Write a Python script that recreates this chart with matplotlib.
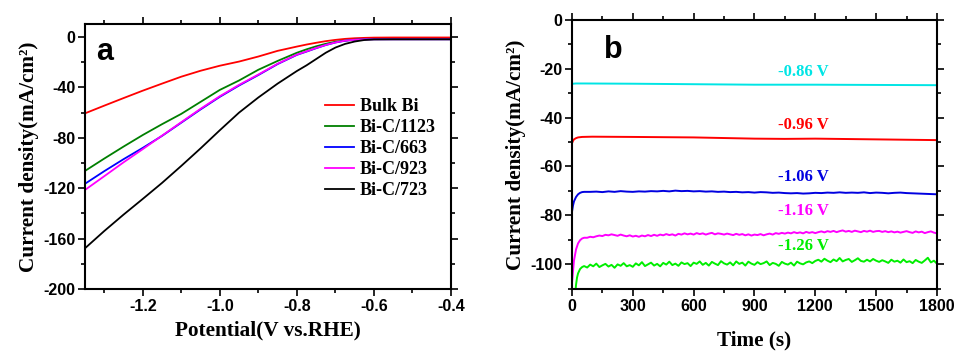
import matplotlib
matplotlib.use("Agg")
import matplotlib.pyplot as plt
from matplotlib.ticker import MultipleLocator

# ---------------- Panel a: LSV curves ----------------
potential = [-1.35, -1.30, -1.25, -1.20, -1.15, -1.10, -1.05, -1.00, -0.95, -0.90,
             -0.85, -0.80, -0.775, -0.75, -0.725, -0.70, -0.675, -0.65, -0.625, -0.60,
             -0.55, -0.50, -0.45, -0.40]

bulk_bi = [-60.6, -54.5, -48.5, -42.6, -37.0, -31.5, -26.8, -22.8, -19.5, -15.5,
           -11.0, -7.6, -6.0, -4.6, -3.3, -2.3, -1.5, -1.0, -0.7, -0.5,
           -0.4, -0.4, -0.4, -0.4]
bic_1123 = [-106.3, -96.5, -87.0, -77.8, -69.2, -61.0, -51.5, -42.0, -34.5, -26.0,
            -19.0, -12.5, -9.8, -7.4, -5.4, -3.8, -2.8, -2.1, -1.9, -1.8,
            -1.8, -1.8, -1.8, -1.8]
bic_663 = [-116.5, -106.5, -97.0, -88.0, -78.5, -68.0, -57.5, -47.5, -38.5, -30.2,
           -21.5, -14.2, -11.6, -8.9, -6.4, -4.4, -3.0, -2.2, -1.9, -1.8,
           -1.8, -1.8, -1.8, -1.8]
bic_923 = [-121.4, -110.5, -99.5, -89.0, -78.3, -67.6, -57.0, -47.0, -38.0, -29.8,
           -21.2, -14.0, -11.4, -8.7, -6.3, -4.3, -2.9, -2.2, -1.9, -1.8,
           -1.8, -1.8, -1.8, -1.8]
bic_723 = [-167.7, -154.0, -141.0, -128.5, -115.8, -102.3, -88.4, -74.0, -60.0, -48.0,
           -37.0, -27.0, -22.5, -17.5, -12.5, -8.4, -5.5, -3.6, -2.4, -1.9,
           -1.8, -1.8, -1.8, -1.8]

lsv_labels = ["Bulk Bi", "Bi-C/1123", "Bi-C/663", "Bi-C/923", "Bi-C/723"]
lsv_colors = ["#ff0000", "#007f00", "#0000ff", "#ff00ff", "#000000"]

# ---------------- Panel b: chronoamperometry ----------------
t_cyan = [0, 5, 20, 60, 300, 600, 900, 1200, 1500, 1800]
j_cyan = [-26.3, -26.1, -26.0, -26.0, -26.1, -26.3, -26.5, -26.5, -26.6, -26.7]

t_red = [0, 5, 10, 20, 30, 50, 100, 300, 600, 900, 1050, 1200, 1500, 1800]
j_red = [-50.5, -49.5, -48.9, -48.4, -48.1, -47.9, -47.8, -47.9, -48.1, -48.6,
         -48.7, -48.6, -48.9, -49.2]

t_blue = [0, 5, 10, 20, 30, 40, 50, 60] + list(range(90, 1801, 30))
j_blue = [-78.6, -76.0, -74.3, -72.5, -71.4, -70.8, -70.5, -70.4,
          -70.4, -70.3, -70.5, -70.2, -70.4, -70.1, -70.3, -70.4, -70.2, -70.3, -70.1,
          -70.2, -70.0, -70.2, -69.9, -70.1, -70.0, -70.2, -70.1, -70.3, -70.2, -70.4,
          -70.3, -70.5, -70.4, -70.6, -70.5, -70.7, -70.5, -70.6, -70.8, -70.7, -70.9,
          -71.0, -70.9, -71.1, -71.0, -70.8, -70.9, -70.7, -70.8, -70.6, -70.8, -70.7,
          -70.8, -70.6, -70.9, -70.7, -70.8, -71.0, -70.8, -70.7, -70.9, -71.0, -71.1,
          -71.2, -71.3, -71.4]

t_mag = [0, 5, 10, 20, 30, 40, 50, 60] + list(range(75, 1801, 15))
j_mag = [-107.8, -103.0, -98.5, -94.0, -91.5, -90.2, -89.5, -89.2,
         -89.2, -88.8, -89.0, -88.6, -88.3, -88.5, -88.0, -88.2, -87.8, -88.1,
         -88.4, -87.9, -88.3, -88.6, -88.2, -88.7,
         -88.4, -88.8, -88.3, -88.6, -88.1, -88.5, -88.0, -88.4, -87.9, -88.2,
         -87.7, -88.1, -87.8, -88.3, -87.6, -87.9, -87.4, -87.8, -87.5, -87.9,
         -87.3, -87.7, -87.4, -87.9, -87.5, -87.2, -87.8, -87.4, -87.6, -87.9,
         -87.5, -87.8, -88.1, -87.6, -88.0, -87.7, -88.2, -87.8, -88.3, -87.9,
         -88.1, -87.7, -88.2, -87.8, -87.5, -87.9, -87.3, -87.6, -87.2, -87.5,
         -87.1, -87.4, -86.9, -87.3, -87.0, -87.4, -86.8, -87.2, -86.9, -87.3,
         -86.9, -86.6, -87.0, -86.5, -86.8, -86.4, -86.9, -86.5, -86.2, -86.7,
         -86.4, -86.8, -86.3, -86.6, -86.9, -86.4, -86.7, -86.3, -86.8, -86.5,
         -86.4, -86.8, -86.5, -86.9, -86.6, -87.0, -86.7, -87.1, -86.8, -86.5,
         -86.9, -87.2, -86.6, -87.0, -86.7, -87.3, -86.9, -86.6, -87.1, -87.4]

t_green = [15, 20, 25, 30, 40, 50] + list(range(60, 1801, 15))
j_green = [-113.0, -108.5, -105.5, -103.8, -102.0, -101.2,
           -100.8, -101.4, -100.2, -100.9, -99.8, -101.2, -100.5, -99.9, -101.0, -100.3,
           -101.5, -100.1, -100.7, -99.6, -100.9, -100.4, -101.1,
           -99.7, -100.5, -99.2, -100.8, -100.1, -99.4, -100.6, -99.9, -100.9, -99.5,
           -100.2, -99.0, -100.4, -99.8, -100.7, -99.3, -100.0, -99.6, -100.8, -99.4,
           -99.9, -98.9, -100.3, -99.5, -100.6, -99.1, -99.8, -100.4, -98.8, -99.7,
           -100.2, -99.3, -100.5, -98.9, -99.9, -99.4, -100.6, -99.0, -99.8, -100.3,
           -99.2, -100.0, -99.6, -98.9, -100.4, -99.5, -99.9, -100.7, -99.1, -99.8,
           -100.2, -99.4, -100.6, -99.0, -99.7, -100.1, -99.3, -98.9, -99.6, -98.7,
           -98.2, -99.0, -97.8, -98.6, -99.2, -98.1, -98.8, -97.5, -98.9, -98.3,
           -97.9, -99.1, -98.4, -97.6, -98.7, -99.0, -98.2, -98.9, -97.9, -98.6,
           -99.1, -98.4, -98.9, -99.5, -98.2, -99.0, -98.6, -99.4, -98.1, -99.2,
           -98.8, -99.6, -98.3, -99.0, -99.5, -98.5, -97.4, -99.3, -98.6, -99.8]

ca_labels = ["-0.86 V", "-0.96 V", "-1.06 V", "-1.16 V", "-1.26 V"]
ca_colors = ["#00e5e5", "#ff0000", "#0000e0", "#ff00ff", "#00ee00"]
ca_label_y = [-21.5, -43.2, -64.4, -78.2, -92.5]
ca_label_t = 1140

# ---------------- Styling ----------------
SERIF = "Liberation Serif"
SANS = "Liberation Sans"

fig = plt.figure(figsize=(9.6, 3.51), dpi=100)
ax_a = fig.add_axes([0.0885, 0.1766, 0.3813, 0.755])
ax_b = fig.add_axes([0.5958, 0.1766, 0.3802, 0.7664])


def style_axes(ax):
    for sp in ax.spines.values():
        sp.set_linewidth(1.5)
    ax.tick_params(which="both", direction="out", top=True, right=True,
                   labeltop=False, labelright=False, width=1.2)
    ax.tick_params(which="major", length=5, labelsize=11.5, pad=2)
    ax.tick_params(which="minor", length=3)
    for lab in ax.get_xticklabels() + ax.get_yticklabels():
        lab.set_fontfamily(SANS)
        lab.set_fontweight("bold")


# Panel a
series_a = [bulk_bi, bic_1123, bic_663, bic_923, bic_723]
for vals, lab, col in zip(series_a, lsv_labels, lsv_colors):
    ax_a.plot(potential, vals, color=col, lw=1.3, label=lab)
ax_a.set_xlim(-1.35, -0.4)
ax_a.set_ylim(-200, 10.3)
ax_a.xaxis.set_minor_locator(MultipleLocator(0.1))
ax_a.yaxis.set_minor_locator(MultipleLocator(20))
ax_a.set_xticks([-1.2, -1.0, -0.8, -0.6, -0.4])
ax_a.set_xticklabels(["-1.2", "-1.0", "-0.8", "-0.6", "-0.4"])
ax_a.set_yticks([-200, -160, -120, -80, -40, 0])
ax_a.set_yticklabels(["-200", "-160", "-120", "-80", "-40", "0"])
style_axes(ax_a)
ax_a.set_xlabel("Potential(V vs.RHE)", fontfamily=SERIF, fontweight="bold",
                fontsize=15.3, labelpad=5)
ax_a.set_ylabel("Current density(mA/cm²)", fontfamily=SERIF, fontweight="bold",
                fontsize=15.3, labelpad=3)
ax_a.text(0.055, 0.895, "a", transform=ax_a.transAxes, fontfamily=SANS,
          fontweight="bold", fontsize=22, ha="center", va="center")
leg = ax_a.legend(loc="upper left", bbox_to_anchor=(0.657, 0.72), frameon=False,
                  prop={"family": SERIF, "weight": "bold", "size": 13},
                  handlelength=1.6, handletextpad=0.3, labelspacing=0.22,
                  borderpad=0, borderaxespad=0)

# Panel b
series_b = [(t_cyan, j_cyan), (t_red, j_red), (t_blue, j_blue),
            (t_mag, j_mag), (t_green, j_green)]
for (tt, jj), col in zip(series_b, ca_colors):
    ax_b.plot(tt, jj, color=col, lw=1.4, clip_on=True)
for lab, col, yy in zip(ca_labels, ca_colors, ca_label_y):
    ax_b.text(ca_label_t, yy, lab, color=col, fontfamily=SERIF, fontweight="bold",
              fontsize=12, ha="center", va="center")
ax_b.set_xlim(0, 1800)
ax_b.set_ylim(-110.2, 0)
ax_b.set_xticks([0, 300, 600, 900, 1200, 1500, 1800])
ax_b.xaxis.set_minor_locator(MultipleLocator(150))
ax_b.set_yticks([-100, -80, -60, -40, -20, 0])
ax_b.set_yticklabels(["-100", "-80", "-60", "-40", "-20", "0"])
ax_b.yaxis.set_minor_locator(MultipleLocator(10))
style_axes(ax_b)
ax_b.set_xlabel("Time (s)", fontfamily=SERIF, fontweight="bold", fontsize=15.3,
                labelpad=12)
ax_b.set_ylabel("Current density(mA/cm²)", fontfamily=SERIF, fontweight="bold",
                fontsize=15.3, labelpad=3)
ax_b.text(0.112, 0.888, "b", transform=ax_b.transAxes, fontfamily=SANS,
          fontweight="bold", fontsize=22, ha="center", va="center")

fig.savefig("out.png", dpi=100)
